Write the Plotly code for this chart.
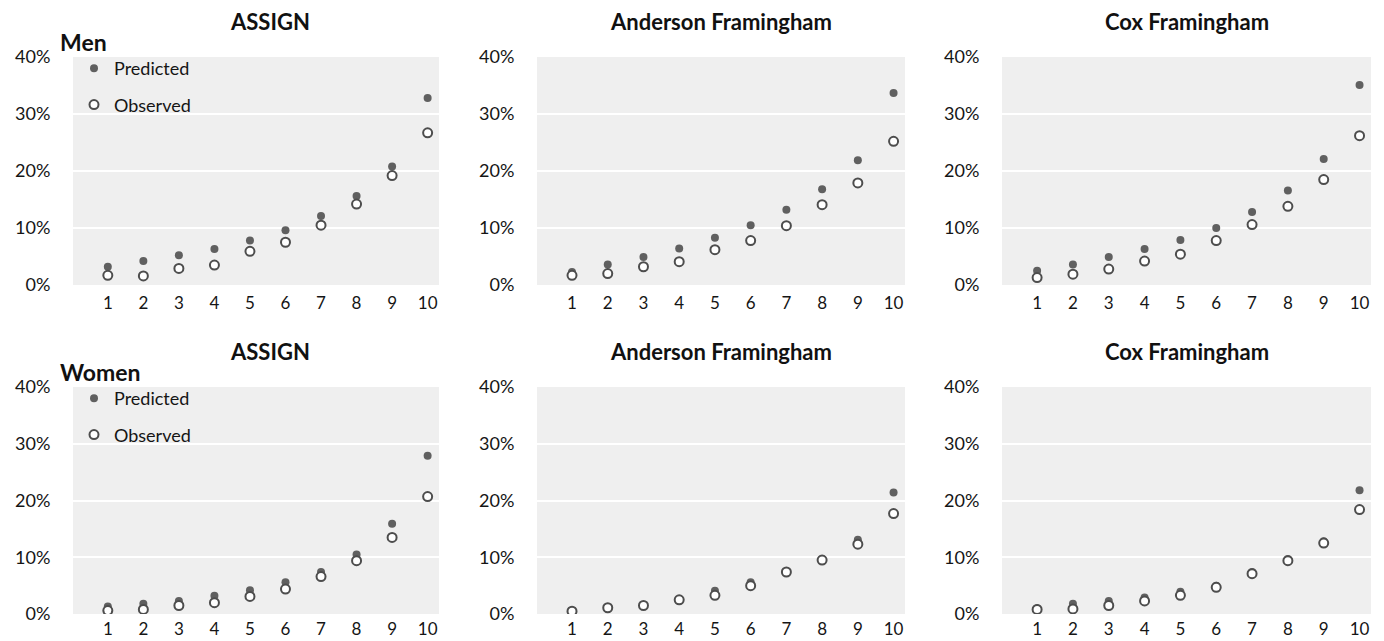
import plotly.graph_objects as go

# Risk deciles
deciles = list(range(1, 11))
tick_text = [str(d) for d in deciles]
y_ticks = [0, 0.1, 0.2, 0.3, 0.4]
y_tick_text = ["0%", "10%", "20%", "30%", "40%"]

model_names = ["ASSIGN", "Anderson Framingham", "Cox Framingham"]

# Men: predicted vs observed 10-year risk by decile
men_assign_pred = [0.032, 0.042, 0.052, 0.063, 0.078, 0.096, 0.121, 0.156, 0.208, 0.328]
men_assign_obs = [0.017, 0.016, 0.029, 0.035, 0.059, 0.075, 0.105, 0.142, 0.192, 0.267]
men_anderson_pred = [0.023, 0.036, 0.049, 0.064, 0.083, 0.105, 0.132, 0.168, 0.219, 0.337]
men_anderson_obs = [0.017, 0.020, 0.032, 0.041, 0.062, 0.078, 0.104, 0.141, 0.179, 0.252]
men_cox_pred = [0.025, 0.036, 0.049, 0.063, 0.079, 0.100, 0.128, 0.166, 0.221, 0.351]
men_cox_obs = [0.013, 0.019, 0.028, 0.042, 0.054, 0.078, 0.106, 0.138, 0.185, 0.262]

# Women: predicted vs observed 10-year risk by decile
women_assign_pred = [0.013, 0.018, 0.023, 0.032, 0.042, 0.056, 0.074, 0.105, 0.159, 0.279]
women_assign_obs = [0.006, 0.008, 0.015, 0.020, 0.031, 0.044, 0.066, 0.094, 0.135, 0.207]
women_anderson_pred = [0.006, 0.012, 0.016, 0.026, 0.041, 0.056, 0.075, 0.097, 0.131, 0.214]
women_anderson_obs = [0.005, 0.011, 0.015, 0.025, 0.033, 0.050, 0.074, 0.095, 0.123, 0.177]
women_cox_pred = [0.010, 0.018, 0.023, 0.029, 0.039, 0.050, 0.074, 0.097, 0.128, 0.218]
women_cox_obs = [0.008, 0.009, 0.015, 0.023, 0.033, 0.047, 0.071, 0.094, 0.125, 0.184]

panels = [
    (men_assign_pred, men_assign_obs),
    (men_anderson_pred, men_anderson_obs),
    (men_cox_pred, men_cox_obs),
    (women_assign_pred, women_assign_obs),
    (women_anderson_pred, women_anderson_obs),
    (women_cox_pred, women_cox_obs),
]

W, H = 1384, 641
col_px = [(73, 439), (537, 905), (1002, 1371)]
row_px = [(57, 285), (387, 614)]
x_tick_gap = [3, 0]

PRED_COLOR = "#606060"
OBS_LINE = "#4d4d4d"
BG = "#efefef"
TEXT = "#151515"
FONT = "Lato"

fig = go.Figure()
layout = dict(
    width=W, height=H,
    margin=dict(l=0, r=0, t=0, b=0, autoexpand=False),
    paper_bgcolor="white",
    plot_bgcolor=BG,
    font=dict(family=FONT, color=TEXT),
    showlegend=True,
    annotations=[],
)

for i, (pred, obs) in enumerate(panels):
    r, c = divmod(i, 3)
    n = i + 1
    xa = "x" if n == 1 else f"x{n}"
    ya = "y" if n == 1 else f"y{n}"
    legend_id = "legend" if r == 0 else "legend2"
    show = c == 0
    fig.add_trace(go.Scatter(
        x=deciles, y=pred, mode="markers", name="Predicted",
        xaxis=xa, yaxis=ya, legend=legend_id, legendgroup=f"p{r}",
        showlegend=show,
        marker=dict(size=8, color=PRED_COLOR, line=dict(width=0)),
    ))
    fig.add_trace(go.Scatter(
        x=deciles, y=obs, mode="markers", name="Observed",
        xaxis=xa, yaxis=ya, legend=legend_id, legendgroup=f"o{r}",
        showlegend=show,
        marker=dict(size=9, color="white", line=dict(width=2, color=OBS_LINE)),
    ))

    x0, x1 = col_px[c]
    y0, y1 = row_px[r]
    layout["xaxis" if n == 1 else f"xaxis{n}"] = dict(
        domain=[x0 / W, x1 / W],
        anchor=ya,
        range=[0.02, 10.32],
        tickmode="array", tickvals=deciles, ticktext=tick_text,
        ticks="outside", ticklen=x_tick_gap[r], tickcolor="rgba(0,0,0,0)",
        tickfont=dict(size=17, family=FONT, color=TEXT),
        showgrid=False, zeroline=False, showline=False,
        automargin=False, fixedrange=True,
    )
    layout["yaxis" if n == 1 else f"yaxis{n}"] = dict(
        domain=[(H - y1) / H, (H - y0) / H],
        anchor=xa,
        range=[0, 0.4],
        tickmode="array", tickvals=y_ticks, ticktext=y_tick_text,
        ticks="outside", ticklen=18, tickcolor="rgba(0,0,0,0)",
        tickfont=dict(size=18, family=FONT, color=TEXT),
        showgrid=True, gridcolor="white", gridwidth=2,
        zeroline=False, showline=False,
        automargin=False, fixedrange=True,
    )
    # panel title
    layout["annotations"].append(dict(
        text=f"<b>{model_names[c]}</b>",
        x=(x0 + x1) / 2 / W + (0.01 if c == 0 else 0.0),
        y=(H - (y0 - 36)) / H,
        xref="paper", yref="paper", xanchor="center", yanchor="middle",
        showarrow=False, font=dict(size=22, family=FONT, color="#111111"),
    ))

# sex labels
for r, label in enumerate(["Men", "Women"]):
    y0 = row_px[r][0]
    layout["annotations"].append(dict(
        text=f"<b>{label}</b>",
        x=58 / W, y=(H - (y0 - 15)) / H,
        xref="paper", yref="paper", xanchor="left", yanchor="middle",
        showarrow=False, font=dict(size=23, family=FONT, color="#111111"),
    ))

legend_style = dict(
    xanchor="left", yanchor="top",
    bgcolor="rgba(0,0,0,0)", borderwidth=0,
    font=dict(size=18, family=FONT, color=TEXT),
    tracegroupgap=10, itemsizing="trace",
    traceorder="grouped",
)
layout["legend"] = dict(legend_style, x=74 / W, y=(H - 50) / H)
layout["legend2"] = dict(legend_style, x=74 / W, y=(H - 380) / H)

fig.update_layout(**layout)
fig.write_html("out.html")
